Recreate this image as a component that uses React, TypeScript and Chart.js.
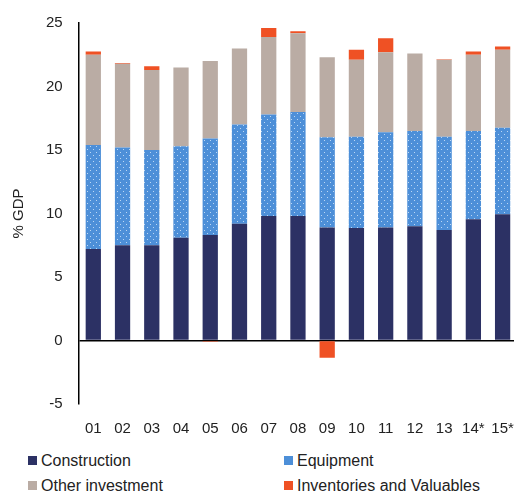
import { Chart, registerables } from "chart.js";
import { useEffect, useRef } from "react";

Chart.register(...registerables);

const years = ["01", "02", "03", "04", "05", "06", "07", "08", "09", "10", "11", "12", "13", "14*", "15*"];
const construction = [7.2, 7.5, 7.5, 8.1, 8.3, 9.2, 9.8, 9.8, 8.9, 8.85, 8.9, 9.0, 8.7, 9.55, 9.95];
const equipment = [8.2, 7.7, 7.5, 7.2, 7.6, 7.8, 8.0, 8.2, 7.1, 7.2, 7.5, 7.5, 7.35, 6.95, 6.8];
const otherInvestment = [7.1, 6.6, 6.3, 6.2, 6.1, 6.0, 6.1, 6.2, 6.3, 6.05, 6.3, 6.1, 6.05, 6.0, 6.15];
const inventories = [0.25, 0.05, 0.3, 0, -0.1, 0, 0.7, 0.15, -1.35, 0.8, 1.1, 0, 0.05, 0.25, 0.25];

const FONT = "'Liberation Sans', Arial, sans-serif";
const NAVY = "#2c3164";
const BLUE = "#4d8fd8";
const TAUPE = "#baaca4";
const ORANGE = "#ef5124";

function dotted(): CanvasPattern | string {
  const c = document.createElement("canvas");
  c.width = 6;
  c.height = 6;
  const g = c.getContext("2d");
  if (!g) return BLUE;
  g.fillStyle = BLUE;
  g.fillRect(0, 0, 6, 6);
  g.fillStyle = "#bcd7f3";
  g.fillRect(1, 1, 1, 1);
  g.fillRect(4, 4, 1, 1);
  return g.createPattern(c, "repeat") || BLUE;
}

export default function App() {
  const ref = useRef<HTMLCanvasElement | null>(null);
  useEffect(() => {
    const ctx = ref.current?.getContext("2d");
    if (!ctx) return;
    const pat = dotted();
    const chart = new Chart(ctx, {
      type: "bar",
      data: {
        labels: years,
        datasets: [
          { label: "Construction", data: construction, backgroundColor: NAVY },
          { label: "Equipment", data: equipment, backgroundColor: pat },
          { label: "Other investment", data: otherInvestment, backgroundColor: TAUPE },
          { label: "Inventories and Valuables", data: inventories, backgroundColor: ORANGE },
        ],
      },
      options: {
        animation: false,
        responsive: true,
        maintainAspectRatio: false,
        layout: { padding: { top: 0, right: 4, left: 0 } },
        datasets: { bar: { categoryPercentage: 0.55, barPercentage: 0.95 } },
        plugins: { legend: { display: false }, tooltip: { enabled: false } },
        scales: {
          x: {
            stacked: true,
            grid: { display: false },
            border: { display: false },
            ticks: { color: "#222", font: { family: FONT, size: 15 }, maxRotation: 0, autoSkip: false, padding: 8 },
          },
          y: {
            stacked: true,
            min: -5,
            max: 25,
            ticks: { stepSize: 5, color: "#222", font: { family: FONT, size: 15 }, padding: 16 },
            grid: {
              drawTicks: false,
              lineWidth: 1.5,
              color: (c: any) => (c.tick && c.tick.value === 0 ? "#000" : "transparent"),
            },
            border: { display: true, color: "#000", width: 1.5 },
            title: { display: true, text: "% GDP", color: "#222", font: { family: FONT, size: 15 }, padding: 2 },
          },
        },
      },
    });
    return () => chart.destroy();
  }, []);

  const items = [
    { label: "Construction", bg: NAVY },
    { label: "Equipment", bg: BLUE },
    { label: "Other investment", bg: TAUPE },
    { label: "Inventories and Valuables", bg: ORANGE },
  ];
  return (
    <div style={{ width: 514, fontFamily: FONT }}>
      <div style={{ height: 448, marginTop: -10 }}>
        <canvas ref={ref}></canvas>
      </div>
      <div style={{ display: "grid", gridTemplateColumns: "256px 250px", rowGap: 6, fontSize: 16, color: "#222", paddingLeft: 20, marginTop: 5 }}>
        {items.map((it) => (
          <div key={it.label} style={{ display: "flex", alignItems: "center", height: 19 }}>
            <span style={{ width: 9, height: 9, background: it.bg, marginRight: 4, display: "inline-block" }}></span>
            {it.label}
          </div>
        ))}
      </div>
    </div>
  );
}
